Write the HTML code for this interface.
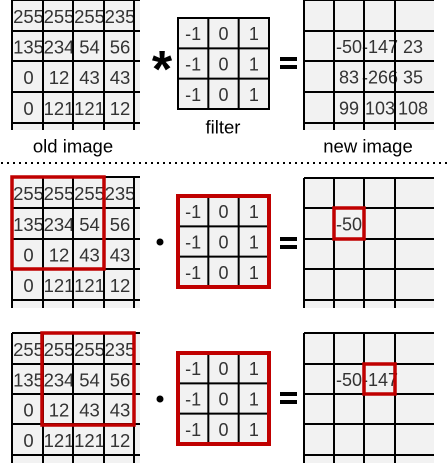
<!DOCTYPE html>
<html><head><meta charset="utf-8"><style>
html,body{margin:0;padding:0;background:#fff;}
svg{display:block;font-family:"Liberation Sans",sans-serif;}
</style></head><body>
<svg id="s" width="448" height="463" viewBox="0 0 448 463"></svg>
<script>
const oldImage=[[255,255,255,235],[135,234,54,56],[0,12,43,43],[0,121,121,12]];
const filterVals=[[-1,0,1],[-1,0,1],[-1,0,1]];
const newImage=[[-50,-147,23],[83,-266,35],[99,103,108]];
const NS='http://www.w3.org/2000/svg';
const svg=document.getElementById('s');
function mk(tag,attrs,parent){const e=document.createElementNS(NS,tag);for(const k in attrs)e.setAttribute(k,attrs[k]);(parent||svg).appendChild(e);return e;}
function txt(x,y,t,size,parent,anchor){const e=mk('text',{x:x,y:y,'font-size':size,'text-anchor':anchor||'middle','dominant-baseline':'central',fill:'#333'},parent);e.textContent=t;return e;}
const colsOld=[12,43,73,104,134];
const colsNew=[304,334,364,395];
function oldGrid(name,rows,top,bottom,right){
  const g=mk('g',{});
  
  
  mk('rect',{x:12,y:top,width:right-12,height:bottom-top,fill:'#f2f2f2'},g);
  for(let r=0;r<4;r++)for(let c=0;c<4;c++){
    const t=txt((colsOld[c]+colsOld[c+1])/2+1,(rows[r]+rows[r+1])/2+1,String(oldImage[r][c]),18.5,g);
    
    
  }
  colsOld.forEach(x=>mk('line',{x1:x,y1:top,x2:x,y2:bottom,stroke:'#000','stroke-width':2},g));
  rows.forEach(y=>mk('line',{x1:12,y1:y,x2:right,y2:y,stroke:'#000','stroke-width':2},g));
  return g;
}
function newGrid(name,rows,top,bottom,vals){
  const g=mk('g',{});
  
  
  mk('rect',{x:304,y:top,width:130,height:bottom-top,fill:'#f2f2f2'},g);
  const cx=[319,349,380,413];
  vals.forEach(v=>{const t=txt(cx[v.c],(rows[v.r]+rows[v.r+1])/2+1,String(v.val),18,g);
    
    });
  colsNew.forEach(x=>mk('line',{x1:x,y1:top,x2:x,y2:bottom,stroke:'#000','stroke-width':2},g));
  rows.forEach(y=>mk('line',{x1:304,y1:y,x2:434,y2:y,stroke:'#000','stroke-width':2},g));
  return g;
}
function filterBox(name,top,red){
  const g=mk('g',{});
  
  
  const x0=178,w=91,cw=w/3;
  mk('rect',{x:x0,y:top,width:w,height:w,fill:'#f2f2f2'},g);
  for(let r=0;r<3;r++)for(let c=0;c<3;c++){
    const t=txt(x0+cw*c+cw/2,top+cw*r+cw/2+1,String(filterVals[r][c]),18,g);
    
    
  }
  for(let i=1;i<3;i++){
    mk('line',{x1:x0+cw*i,y1:top,x2:x0+cw*i,y2:top+w,stroke:'#000','stroke-width':2},g);
    mk('line',{x1:x0,y1:top+cw*i,x2:x0+w,y2:top+cw*i,stroke:'#000','stroke-width':2},g);
  }
  mk('rect',{x:x0,y:top,width:w,height:w,fill:'none',stroke:red?'#c00000':'#000','stroke-width':red?4:2},g);
  return g;
}
function redBox(name,x,y,w,h){const e=mk('rect',{x:x,y:y,width:w,height:h,fill:'none',stroke:'#c00000','stroke-width':3.5});
  }
function eq(y){const g=mk('g',{});
  mk('rect',{x:280,y:y-6,width:17,height:4,fill:'#000'},g);mk('rect',{x:280,y:y+2,width:17,height:4,fill:'#000'},g);}
function dot(y){const e=mk('circle',{cx:160,cy:y,r:3.5,fill:'#000'});}

// Top section
oldGrid('old-image-grid',[0,31,61,92,123],0,130,140);
filterBox('filter-grid',18,false);
newGrid('new-image-grid',[0,31,61,92,123],0,130,
  [{r:1,c:1,val:newImage[0][0]},{r:1,c:2,val:newImage[0][1]},{r:1,c:3,val:newImage[0][2]},
   {r:2,c:1,val:newImage[1][0]},{r:2,c:2,val:newImage[1][1]},{r:2,c:3,val:newImage[1][2]},
   {r:3,c:1,val:newImage[2][0]},{r:3,c:2,val:newImage[2][1]},{r:3,c:3,val:newImage[2][2]}]);
let a=txt(162,70,'*',52,svg);a.setAttribute('fill','#000');a.setAttribute('font-weight','bold');

eq(63);
let l1=txt(73,146,'old image',18.5);l1.setAttribute('fill','#000');
let l2=txt(223,127,'filter',18.5);l2.setAttribute('fill','#000');
let l3=txt(368,146,'new image',18.5);l3.setAttribute('fill','#000');

// Divider
let d=mk('line',{x1:1,y1:163,x2:448,y2:163,stroke:'#000','stroke-width':2,'stroke-dasharray':'2 4'});


// Middle section
oldGrid('step1-old-image-grid',[177,208,239,269,300],177,308,140);
redBox('step1-window-highlight',12,177,92,92);
dot(242);
filterBox('step1-filter-grid',196,true);
eq(243);
newGrid('step1-new-image-grid',[178,208,239,269,300],178,308,[{r:1,c:1,val:newImage[0][0]}]);
redBox('step1-output-highlight',334,208,30,31);

// Bottom section
oldGrid('step2-old-image-grid',[333,364,394,424,455],333,463,140);
redBox('step2-window-highlight',42,333,92,92);
dot(399);
filterBox('step2-filter-grid',353,true);
eq(398);
newGrid('step2-new-image-grid',[333,364,394,424,455],333,463,[{r:1,c:1,val:newImage[0][0]},{r:1,c:2,val:newImage[0][1]}]);
redBox('step2-output-highlight',364,364,31,30);
</script>
</body></html>
